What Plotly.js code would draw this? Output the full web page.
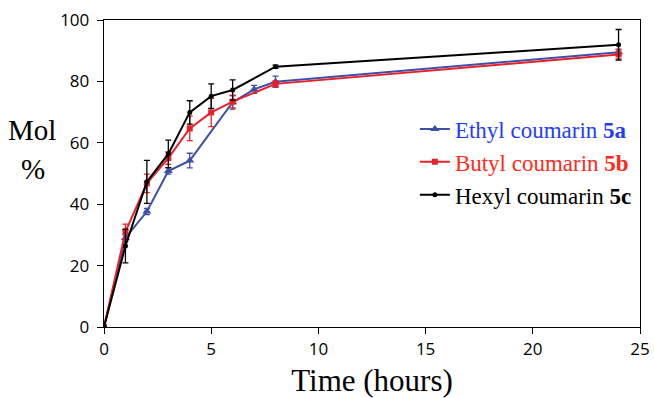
<!DOCTYPE html>
<html>
<head>
<meta charset="utf-8">
<script src="https://cdn.plot.ly/plotly-3.0.1.min.js"></script>
<style>html,body{margin:0;padding:0;background:#fff;}#chart{width:654px;height:398px;}</style>
</head>
<body>
<div id="chart"></div>
<script>
// Data
const timeA = [0, 1, 2, 3, 4, 6, 7, 8, 24];
const ethylA = [0, 29, 37.6, 50.8, 54.2, 73.2, 77.4, 79.9, 89.5];
const ethylErr = [0, 1, 1, 1, 2.4, 2.2, 1.3, 1.8, 1];

const timeB = [0, 1, 2, 3, 4, 5, 6, 8, 24];
const butylB = [0, 31, 46.8, 55, 64.7, 69.9, 73.4, 79.2, 88.8];
const butylErr = [0, 2.5, 3, 2, 4, 4.6, 2, 1, 1.5];

const timeC = [0, 1, 2, 3, 4, 5, 6, 8, 24];
const hexylC = [0, 26.4, 47.3, 56.4, 69.9, 75.2, 77.2, 84.8, 91.9];
const hexylErr = [0, 5.5, 7, 4.5, 3.8, 4, 3.3, 0.5, 5];

const bstyle = "font-family:'Liberation Serif'";
const names = [
  '<span style="color:#1f3cff">Ethyl coumarin <b style="' + bstyle + '">5a</b></span>',
  '<span style="color:#ff2a1a">Butyl coumarin <b style="' + bstyle + '">5b</b></span>',
  '<span style="color:#000000">Hexyl coumarin <b style="' + bstyle + '">5c</b></span>'
];
const lineColors = ['#3f4fa8', '#e8202a', '#000000'];

function mk(x, y, err, i, sym, size) {
  return {
    x: x, y: y, name: names[i], type: 'scatter', mode: 'lines+markers',
    line: {color: lineColors[i], width: 2},
    marker: {color: lineColors[i], symbol: sym, size: size},
    error_y: {type: 'data', array: err, visible: true, color: lineColors[i], thickness: 1.3, width: 3}
  };
}

const data = [
  mk(timeA, ethylA, ethylErr, 0, 'triangle-up', 8),
  mk(timeB, butylB, butylErr, 1, 'square', 6),
  mk(timeC, hexylC, hexylErr, 2, 'circle', 5)
];

const serif = 'Liberation Serif';
const layout = {
  width: 654, height: 398,
  margin: {l: 104, r: 14, t: 20, b: 71},
  paper_bgcolor: '#fff', plot_bgcolor: '#fff',
  showlegend: true,
  legend: {x: 0.58, y: 0.715, xanchor: 'left', yanchor: 'top',
    font: {family: serif, size: 23, color: '#000'}, bgcolor: 'rgba(0,0,0,0)', tracegroupgap: 0},
  xaxis: {
    range: [0, 25], tickvals: [0, 5, 10, 15, 20, 25], showgrid: false, zeroline: false,
    showline: true, linecolor: '#000', linewidth: 1.3, mirror: true,
    ticks: 'outside', ticklen: 6, tickcolor: '#000',
    tickfont: {family: 'Open Sans, sans-serif', size: 17, color: '#000'},
    title: {text: 'Time (hours)', font: {family: serif, size: 31, color: '#000'}, standoff: 10}
  },
  yaxis: {
    range: [0, 100], tickvals: [0, 20, 40, 60, 80, 100], showgrid: false, zeroline: false,
    showline: true, linecolor: '#000', linewidth: 1.3, mirror: true,
    ticks: 'outside', ticklen: 6, tickcolor: '#000', ticklabelstandoff: 4,
    tickfont: {family: 'Open Sans, sans-serif', size: 17, color: '#000'}
  },
  annotations: [
    {text: 'Mol', xref: 'paper', yref: 'paper', x: -0.135, y: 0.643, xanchor: 'center', yanchor: 'middle',
     showarrow: false, font: {family: serif, size: 29, color: '#000'}},
    {text: '%', xref: 'paper', yref: 'paper', x: -0.133, y: 0.515, xanchor: 'center', yanchor: 'middle',
     showarrow: false, font: {family: serif, size: 29, color: '#000'}}
  ]
};
Plotly.newPlot('chart', data, layout, {displayModeBar: false, staticPlot: true});
</script>
</body>
</html>
